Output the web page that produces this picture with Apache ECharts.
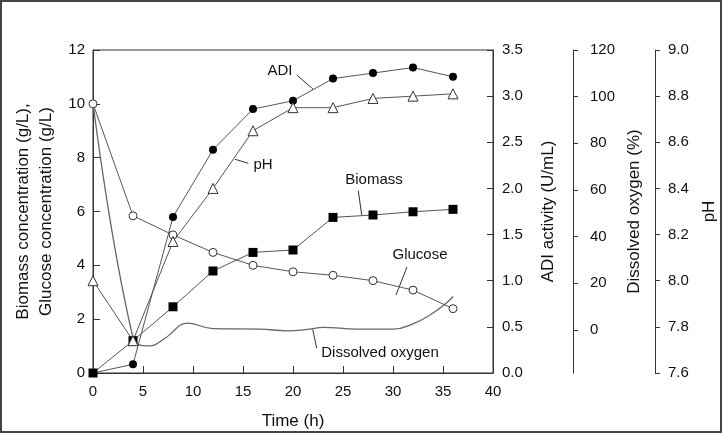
<!DOCTYPE html>
<html><head><meta charset="utf-8">
<script src="https://cdn.jsdelivr.net/npm/echarts@6/dist/echarts.min.js"></script>
<style>html,body{margin:0;padding:0;background:#fff}#c{width:722px;height:433px}</style>
</head><body><div id="c"></div>
<script>
const time = [0, 4, 8, 12, 16, 20, 24, 28, 32, 36];
const biomass = [0, 1.2, 2.46, 3.79, 4.48, 4.57, 5.78, 5.87, 5.99, 6.08];
const glucose = [10, 5.84, 5.13, 4.48, 4.0, 3.76, 3.63, 3.43, 3.08, 2.39];
const adi = [0, 0.094, 1.69, 2.42, 2.86, 2.95, 3.19, 3.25, 3.31, 3.21];
const ph = [8.0, 7.74, 8.17, 8.40, 8.65, 8.75, 8.75, 8.79, 8.80, 8.81];
const doTime = [0, 4, 5.7, 7.2, 9.5, 12, 16.7, 19.4, 21.7, 23, 26.4, 30, 32, 33.7, 35.4, 36];
const doValue = [97.5, -3.4, -6.9, -3.6, 2.9, 0.5, 0.3, -0.4, 0.3, 1.1, 0.3, 0.3, 2.6, 6.4, 11.7, 14.3];
const doTicks = [0, 20, 40, 60, 80, 100, 120];
const annotations = [
  {text: 'ADI', t: 18.7, v: 11.22, from: [20.37, 11.07], to: [22.03, 10.54]},
  {text: 'pH', t: 17.0, v: 7.73, from: [15.53, 7.79], to: [14.2, 7.94]},
  {text: 'Biomass', t: 28.1, v: 7.17, from: [26.53, 6.77], to: [26.87, 5.87]},
  {text: 'Glucose', t: 32.7, v: 4.38, from: [31.4, 3.94], to: [30.3, 2.9]},
  {text: 'Dissolved oxygen', t: 28.7, v: 0.74, from: [21.97, 1.62], to: [22.37, 0.92]}
];

const FONT = 'Liberation Sans, Arial, sans-serif';
const AX = '#333';
const LINE = '#555';
const chart = echarts.init(document.getElementById('c'), null, {renderer: 'canvas'});
const pairs = (xs, ys) => xs.map((x, i) => [x, ys[i]]);
const lab = {color: '#111', fontFamily: FONT, fontSize: 15};
const nameStyle = {color: '#111', fontFamily: FONT, fontSize: 17};

const option = {
  animation: false,
  backgroundColor: '#fff',
  grid: {left: 93, right: 229, top: 50, bottom: 60, show: true, borderColor: AX, borderWidth: 1,
         containLabel: false, outerBoundsMode: 'none'},
  xAxis: {
    type: 'value', min: 0, max: 40, interval: 5,
    name: 'Time (h)', nameLocation: 'middle', nameGap: 40, nameTextStyle: nameStyle,
    axisLine: {lineStyle: {color: AX}},
    axisTick: {inside: true, length: 7, lineStyle: {color: AX}},
    axisLabel: Object.assign({margin: 11}, lab),
    splitLine: {show: false}
  },
  yAxis: [
    {
      type: 'value', position: 'left', min: 0, max: 12, interval: 2,
      name: 'Biomass concentration (g/L),\nGlucose concentration (g/L)',
      nameLocation: 'middle', nameGap: 23,
      nameTextStyle: Object.assign({lineHeight: 23}, nameStyle),
      axisLine: {show: true, lineStyle: {color: AX}},
      axisTick: {show: true, inside: true, length: 7, lineStyle: {color: AX}},
      axisLabel: Object.assign({margin: 8}, lab),
      splitLine: {show: false}
    },
    {
      type: 'value', position: 'right', offset: 0, min: 0, max: 3.5, interval: 0.5,
      name: 'ADI activity (U/mL)', nameLocation: 'middle', nameGap: 47, nameTextStyle: nameStyle,
      axisLine: {show: true, lineStyle: {color: AX}},
      axisTick: {show: true, inside: true, length: 6, lineStyle: {color: AX}},
      axisLabel: Object.assign({margin: 9, formatter: v => v.toFixed(1)}, lab),
      splitLine: {show: false}
    },
    {
      type: 'value', position: 'right', offset: 80, min: -18.5, max: 120,
      name: 'Dissolved oxygen (%)', nameLocation: 'middle', nameGap: 53, nameTextStyle: nameStyle,
      axisLine: {show: true, lineStyle: {color: AX}},
      axisTick: {show: true, inside: false, length: 5, customValues: doTicks, lineStyle: {color: AX}},
      axisLabel: Object.assign({margin: 17, customValues: doTicks}, lab),
      splitLine: {show: false}
    },
    {
      type: 'value', position: 'right', offset: 162, min: 7.6, max: 9.0, interval: 0.2,
      name: 'pH', nameLocation: 'middle', nameGap: 46, nameTextStyle: nameStyle,
      axisLine: {show: true, lineStyle: {color: AX}},
      axisTick: {show: true, inside: false, length: 5, lineStyle: {color: AX}},
      axisLabel: Object.assign({margin: 13, formatter: v => v.toFixed(1)}, lab),
      splitLine: {show: false}
    }
  ],
  series: [
    {
      name: 'Dissolved oxygen', type: 'line', yAxisIndex: 2, data: pairs(doTime, doValue),
      smooth: 0.45, showSymbol: false, symbol: 'none',
      lineStyle: {color: '#666', width: 1.3}, z: 1
    },
    {
      name: 'Glucose', type: 'line', yAxisIndex: 0, data: pairs(time, glucose),
      symbol: 'circle', symbolSize: 8,
      itemStyle: {color: '#fff', borderColor: '#333', borderWidth: 1},
      lineStyle: {color: LINE, width: 1}, z: 3
    },
    {
      name: 'Biomass', type: 'line', yAxisIndex: 0, data: pairs(time, biomass),
      symbol: 'rect', symbolSize: 9,
      itemStyle: {color: '#000', borderColor: '#000', borderWidth: 0},
      lineStyle: {color: LINE, width: 1}, z: 3
    },
    {
      name: 'ADI', type: 'line', yAxisIndex: 1, data: pairs(time, adi),
      symbol: 'circle', symbolSize: 8,
      itemStyle: {color: '#000', borderColor: '#000', borderWidth: 0},
      lineStyle: {color: LINE, width: 1}, z: 3
    },
    {
      name: 'pH', type: 'line', yAxisIndex: 3, data: pairs(time, ph),
      symbol: 'triangle', symbolSize: 10,
      itemStyle: {color: '#fff', borderColor: '#333', borderWidth: 1},
      lineStyle: {color: LINE, width: 1}, z: 3
    }
  ]
};
chart.setOption(option);

const g = [{
  type: 'rect', shape: {x: 1, y: 1, width: 720, height: 431},
  style: {fill: 'none', stroke: '#444', lineWidth: 2}, silent: true, z: 100
}];
annotations.forEach(a => {
  const p = chart.convertToPixel({xAxisIndex: 0, yAxisIndex: 0}, [a.t, a.v]);
  const p1 = chart.convertToPixel({xAxisIndex: 0, yAxisIndex: 0}, a.from);
  const p2 = chart.convertToPixel({xAxisIndex: 0, yAxisIndex: 0}, a.to);
  g.push({
    type: 'text', x: p[0], y: p[1], z: 50,
    style: {text: a.text, font: '15px ' + FONT, fill: '#111', align: 'center', verticalAlign: 'middle', textAlign: 'center', textVerticalAlign: 'middle'}
  });
  g.push({
    type: 'line', z: 50, shape: {x1: p1[0], y1: p1[1], x2: p2[0], y2: p2[1]},
    style: {stroke: '#333', lineWidth: 1}
  });
});
chart.setOption({graphic: g});
</script>
</body></html>
